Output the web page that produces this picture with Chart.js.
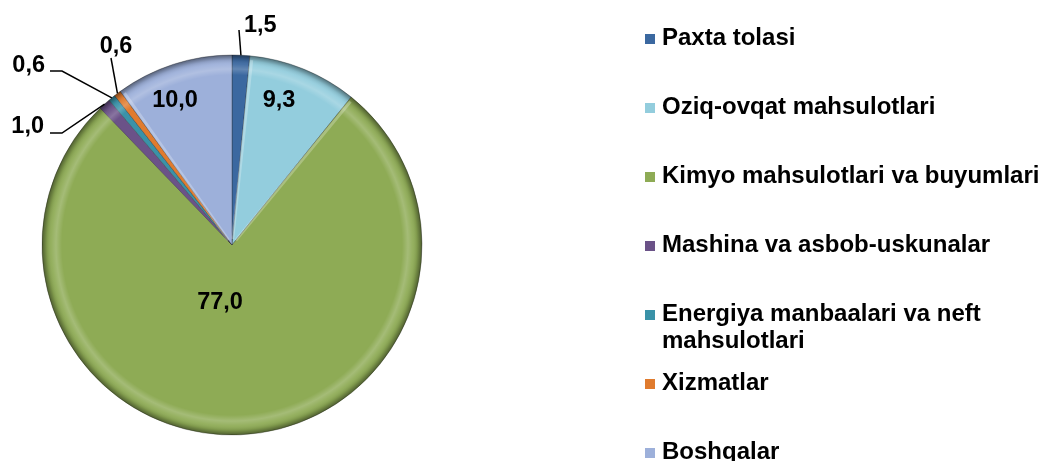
<!DOCTYPE html>
<html>
<head>
<meta charset="utf-8">
<script src="https://cdn.jsdelivr.net/npm/chart.js@4.4.1/dist/chart.umd.min.js"></script>
<style>
  html, body { margin: 0; padding: 0; background: #fff; overflow: hidden; }
  #wrap { position: relative; width: 1051px; height: 461px; }
  #chart { position: absolute; left: 0; top: 0; }
  .lg-box { position: absolute; left: 645px; width: 10px; height: 10px; }
  .lg-text { position: absolute; left: 662px; width: 386px; font: bold 24px "Liberation Sans", Arial, sans-serif; line-height: 27px; color: #000; }
</style>
</head>
<body>
<div id="wrap">
  <canvas id="chart" width="1051" height="461"></canvas>
  <div id="legend"></div>
</div>
<script>
// Dados do gráfico
const categorias = ['Paxta tolasi', 'Oziq-ovqat mahsulotlari', 'Kimyo mahsulotlari va buyumlari',
    'Mashina va asbob-uskunalar', 'Energiya manbaalari va neft mahsulotlari', 'Xizmatlar', 'Boshqalar'];
const valores = [1.5, 9.3, 77.0, 1.0, 0.6, 0.6, 10.0];
const rotulos = ['1,5', '9,3', '77,0', '1,0', '0,6', '0,6', '10,0'];
const cores = ['#3B68A0', '#93CDDD', '#8EAB55', '#6B5288', '#3A92A8', '#E07B2E', '#9DB0DA'];

// Posição dos rótulos (relativa ao centro da pizza)
const rotulosDentro = { 1: [47, -144], 2: [-12, 58], 6: [-57, -144] };
const rotulosFora = {
    0: { linha: [[7, -215]], texto: [12, -213], align: 'left' },
    3: { linha: [[-170, -112], [-182, -112]], texto: [-188, -112], align: 'right' },
    4: { linha: [[-170, -174], [-182, -174]], texto: [-187, -173], align: 'right' },
    5: { linha: [[-121, -187]], texto: [-116, -192], align: 'center' }
};

const fonte = 'bold 23.5px "Liberation Sans", Arial, sans-serif';

// Efeito de borda (bisel) e rótulos
const pluginRotulos = {
    id: 'rotulos',
    afterDatasetsDraw(chart) {
        const ctx = chart.ctx;
        const arcs = chart.getDatasetMeta(0).data;
        const cx = arcs[0].x, cy = arcs[0].y, R = arcs[0].outerRadius;

        // anel de bisel
        ctx.save();
        const g = ctx.createRadialGradient(cx, cy, R - 20, cx, cy, R);
        g.addColorStop(0, 'rgba(255,255,255,0)');
        g.addColorStop(0.3, 'rgba(255,255,255,0.2)');
        g.addColorStop(0.55, 'rgba(255,255,255,0.06)');
        g.addColorStop(0.75, 'rgba(0,0,0,0.1)');
        g.addColorStop(1, 'rgba(0,0,0,0.45)');
        ctx.beginPath();
        ctx.arc(cx, cy, R, 0, Math.PI * 2);
        ctx.arc(cx, cy, R - 20, 0, Math.PI * 2, true);
        ctx.fillStyle = g;
        ctx.fill();

        // realce nas bordas radiais
        ctx.lineWidth = 3;
        ctx.strokeStyle = 'rgba(255,255,255,0.25)';
        arcs.forEach(function (arc) {
            const a = arc.startAngle + 0.012;
            if (arc.endAngle - arc.startAngle < 0.1) return;
            ctx.beginPath();
            ctx.moveTo(cx + Math.cos(a) * 6, cy + Math.sin(a) * 6);
            ctx.lineTo(cx + Math.cos(a) * (R - 4), cy + Math.sin(a) * (R - 4));
            ctx.stroke();
        });
        ctx.restore();

        ctx.save();
        ctx.font = fonte;
        ctx.fillStyle = '#000';
        ctx.strokeStyle = '#000';
        ctx.lineWidth = 1.5;
        arcs.forEach(function (arc, i) {
            if (rotulosDentro[i]) {
                const p = rotulosDentro[i];
                ctx.textAlign = 'center';
                ctx.textBaseline = 'middle';
                ctx.fillText(rotulos[i], cx + p[0], cy + p[1]);
            } else if (rotulosFora[i]) {
                const c = rotulosFora[i];
                const meio = (arc.startAngle + arc.endAngle) / 2;
                ctx.beginPath();
                ctx.moveTo(cx + Math.cos(meio) * R, cy + Math.sin(meio) * R);
                c.linha.forEach(function (pt) { ctx.lineTo(cx + pt[0], cy + pt[1]); });
                ctx.stroke();
                ctx.textAlign = c.align;
                ctx.textBaseline = 'alphabetic';
                ctx.fillText(rotulos[i], cx + c.texto[0], cy + c.texto[1]);
            }
        });
        ctx.restore();
    }
};

new Chart(document.getElementById('chart').getContext('2d'), {
    type: 'pie',
    data: {
        labels: categorias,
        datasets: [{
            data: valores,
            backgroundColor: cores,
            borderColor: 'rgba(40,40,40,0.35)',
            borderWidth: 1,
            hoverOffset: 0
        }]
    },
    options: {
        responsive: false,
        animation: false,
        events: [],
        radius: 190,
        layout: { padding: { left: 37, right: 624, top: 50, bottom: 21 } },
        plugins: {
            legend: { display: false },
            tooltip: { enabled: false }
        }
    },
    plugins: [pluginRotulos]
});

// Legenda em HTML
const legenda = document.getElementById('legend');
categorias.forEach(function (nome, i) {
    const base = 45 + 69 * i;
    const box = document.createElement('div');
    box.className = 'lg-box';
    box.style.top = (base - 11) + 'px';
    box.style.background = cores[i];
    legenda.appendChild(box);
    const txt = document.createElement('div');
    txt.className = 'lg-text';
    txt.style.top = (base - 21.7) + 'px';
    txt.textContent = nome;
    legenda.appendChild(txt);
});
</script>
</body>
</html>
